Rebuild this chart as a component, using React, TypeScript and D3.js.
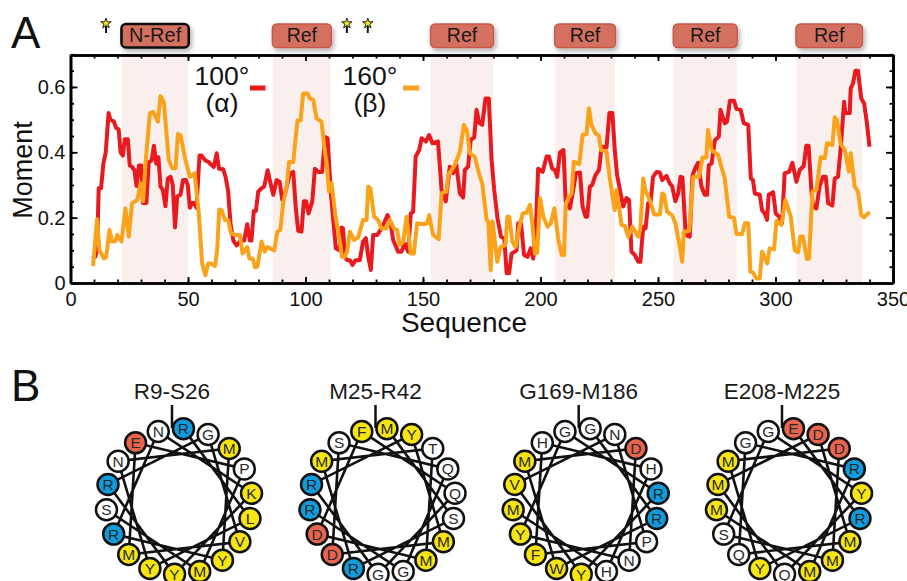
import React, { useEffect, useRef } from "react";
import * as d3 from "d3";

// [residue, moment]
const alphaTrace: [number, number][] = [
  [9.4,.086],[10.5,.08],[11.3,.10],[12,.29],[13,.29],[14,.366],[15,.40],[16.2,.52],[17,.50],[18.4,.495],[19.4,.475],[20.5,.47],[21.3,.40],[22.3,.39],[23.1,.44],[24.4,.44],[25.2,.36],[26.2,.355],[27.2,.345],[28.1,.297],[29.1,.36],[30.1,.36],[30.8,.245],[32.3,.245],[33.3,.37],[34.5,.375],[35.5,.42],[36.5,.365],[37.4,.385],[38.3,.295],[39.3,.285],[40.4,.235],[41.4,.32],[42.6,.325],[43.5,.30],[44.5,.17],[45.4,.265],[46.8,.27],[47.9,.315],[49.1,.315],[49.9,.30],[50.8,.23],[51.8,.245],[52.8,.245],[53.6,.23],[54.9,.39],[55.7,.39],[57.4,.375],[58.9,.37],
  [59.3,.366],[61,.355],[62.2,.397],[63.2,.35],[65,.348],[66,.325],[67.1,.28],[68.1,.18],[69.3,.13],[70.7,.115],[72.4,.13],[73.9,.13],[75.2,.18],[76.3,.13],[77,.13],[78,.22],[78.9,.22],[79.9,.28],[81.3,.29],[82.4,.295],[83.9,.345],[85.1,.305],[86.3,.27],[87.7,.315],[89,.31],[90.1,.255],[91.2,.27],[93.4,.335],[94.8,.34],[95.8,.235],[96.9,.16],[98.3,.157],[99.3,.25],[100.3,.25],[101.3,.213],[102.9,.25],[104,.35],[105.4,.34],[107.1,.34],[108.3,.447],[109.4,.443],[110.8,.275],[111.8,.193],[112.9,.106],[114.4,.10],[115.3,.17],[116,.167],[116.7,.08],
  [117.7,.07],[118.9,.07],[120,.055],[121.3,.07],[123.1,.07],[124.5,.127],[125.7,.137],[126.7,.08],[127.8,.04],[128.8,.147],[130.5,.147],[131.9,.162],[133.7,.188],[134.9,.208],[136.2,.183],[137.3,.132],[139.4,.096],[140.8,.096],[142.3,.12],[143.7,.096],[144.8,.213],[145.8,.218],[146.9,.387],[148.4,.407],[149.4,.443],[151.2,.433],[152.6,.453],[154,.428],[156.4,.433],[157.9,.285],[159.7,.25],[161.4,.356],[162.8,.336],[164.2,.361],[165.7,.275],[167.1,.262],[167.8,.346],[169.2,.356],[170.3,.438],[171.8,.446],[172.8,.53],[173.9,.49],
  [175.2,.484],[176.6,.565],[178,.565],[179.2,.376],[180.3,.285],[181.7,.198],[183.2,.142],[184.6,.137],[185.6,.03],[186.6,.03],[187.7,.09],[189.8,.10],[190.5,.183],[191.7,.183],[193,.086],[194.5,.08],[195.8,.106],[196.9,.075],[198.1,.183],[199,.35],[200.9,.34],[202.6,.387],[203.6,.387],[205,.35],[206.1,.346],[207.1,.325],[208.3,.40],[209.8,.407],[210.7,.25],[212.5,.228],[213.7,.275],[215.1,.336],[216.8,.338],[217.9,.234],[219.2,.203],[219.9,.203],[221,.295],[222,.30],[223.4,.33],[224.9,.346],[226,.417],[228.1,.415],[229.3,.52],[230.6,.52],
  [231.6,.407],[232.6,.33],[233.8,.285],[235.2,.234],[236.6,.26],[237.7,.254],[238.7,.096],[240.1,.086],[241.6,.065],[242.5,.065],[243.7,.172],[244.7,.167],[245.8,.244],[246.9,.25],[247.9,.325],[249.4,.34],[250.8,.338],[251.8,.315],[253.6,.328],[255,.305],[256,.297],[257.4,.25],[258.6,.275],[259.6,.325],[260.4,.323],[261.8,.147],[263.5,.142],[264.7,.33],[266.1,.356],[267.1,.368],[268.5,.295],[269.9,.27],[270.9,.27],[271.6,.36],[272.8,.366],[274.2,.437],[275.9,.448],[276.6,.53],[278.4,.489],[279.4,.494],[280.6,.558],[282.3,.558],[283.4,.533],[285.2,.53],[286.5,.489],[288.4,.484],
  [289.5,.32],[290.4,.315],[291.2,.274],[293.3,.27],[294.3,.223],[295.4,.213],[296.4,.193],[297.1,.27],[299,.278],[300.1,.213],[301.5,.203],[302.8,.183],[303.9,.336],[305.8,.34],[307.2,.368],[308.9,.31],[310.3,.346],[312,.358],[313.1,.42],[314.1,.42],[315.3,.28],[316,.234],[317.4,.228],[318.8,.297],[320.2,.325],[321.4,.325],[322.4,.244],[324.2,.237],[325.2,.32],[326.6,.325],[327.8,.417],[329.2,.555],[329.7,.52],[331.6,.52],[332,.596],[333,.611],[334,.65],[335.1,.65],[336.5,.565],[337.7,.55],[338.9,.489],[340,.417],
];

const betaTrace: [number, number][] = [
  [9.6,.052],[11.3,.195],[12.3,.10],[14.2,.075],[15.2,.08],[16.6,.162],[17.7,.127],[19.1,.128],[19.9,.147],[21.7,.127],[23.4,.228],[24.8,.142],[26.2,.244],[28.4,.254],[29.8,.305],[30.9,.25],[31.9,.366],[33.8,.52],[35.2,.524],[37.2,.494],[38.3,.572],[39.7,.555],[41.8,.377],[43.3,.351],[44.7,.351],[45.7,.456],[46.8,.453],[48.9,.377],[50.8,.325],[52.8,.336],[54.6,.213],[56,.06],[57.4,.024],[58.6,.06],
  [59.8,.06],[61.5,.052],[62.4,.10],[63.3,.225],[64.3,.223],[65.7,.193],[67.1,.193],[68.3,.152],[70,.147],[72.1,.147],[73.2,.09],[75.2,.11],[76.1,.075],[77.5,.075],[78.5,.048],[79.5,.05],[81.3,.127],[82.7,.096],[83.7,.11],[86.7,.10],[88,.157],[89.3,.162],[90.5,.244],[92,.295],[93,.37],[94.8,.37],[95.8,.443],[96.6,.497],[97.9,.497],[99,.58],[100.9,.58],[101.9,.565],[103.3,.56],[104.7,.504],[106.8,.494],[108,.417],[109,.366],[110,.28],[111.1,.305],[112.8,.203],[114.6,.127],[115.5,.08],
  [116.7,.08],[117.7,.096],[118.9,.157],[120.6,.132],[122.4,.139],[124.5,.193],[126,.193],[126.7,.295],[127.6,.29],[129.2,.203],[130.9,.193],[132.3,.167],[134.4,.167],[135.9,.193],[137.6,.167],[139,.162],[140.1,.116],[141.6,.127],[143,.203],[144.8,.09],[146.1,.09],[147.5,.183],[150,.18],[151.8,.183],[152.6,.208],[154.3,.147],[156.7,.134],[157.9,.275],[160,.28],[160.7,.33],[163.5,.361],[165.7,.402],[167.4,.484],[168.8,.463],[169.9,.397],[172,.387],
  [173.8,.336],[175.2,.305],[177.1,.193],[177.8,.188],[178.8,.04],[179.6,.188],[181.6,.065],[183,.11],[185.1,.116],[185.9,.203],[186.7,.203],[188,.127],[189.4,.11],[191,.172],[192.4,.213],[194.1,.215],[195.5,.239],[196.5,.183],[197.6,.09],[198.6,.093],[199.8,.26],[201.2,.203],[203,.172],[204.4,.183],[205.9,.229],[207.6,.132],[209,.086],[210,.086],[210.7,.239],[211.8,.26],[213.2,.274],[214.2,.371],[216.5,.364],[217.9,.453],[219.6,.456],[220.6,.535],[221.7,.484],[223.4,.458],[224.9,.45],[225.7,.407],[228.1,.402],[229.5,.32],
  [231.6,.223],[232.3,.285],[234.5,.178],[235.9,.175],[237.3,.142],[239.1,.172],[241.6,.142],[242.5,.167],[243.7,.32],[244.8,.28],[246.5,.254],[248.4,.21],[250.8,.21],[251.8,.274],[252.6,.27],[253.9,.218],[256,.208],[257.4,.183],[259.3,.11],[260.3,.065],[261,.157],[263.3,.16],[265,.325],[267.5,.325],[268.9,.384],[270.6,.384],[271.3,.468],[272.8,.407],[275.6,.392],[278.4,.32],[280.3,.203],[282.3,.2],[283.4,.15],[285.8,.15],[287,.183],[288.4,.183],
  [289.3,.035],[290.4,.032],[291.9,.014],[293.3,.014],[294.3,.096],[296.5,.06],[297.5,.106],[299.4,.103],[300.4,.19],[302.5,.178],[304.2,.254],[306.5,.203],[308.2,.10],[309.6,.094],[310.6,.142],[311.7,.142],[313.4,.073],[314.3,.075],[315.7,.28],[317.4,.285],[319.2,.385],[321,.382],[321.9,.428],[324.2,.422],[325.2,.507],[326.2,.499],[327.6,.428],[329.5,.407],[331.2,.341],[332,.397],[333.7,.295],[335.1,.28],[336.5,.208],[337.7,.201],[340,.218],
];

const repeatStart = [21.9, 86.1, 153.4, 206.2, 256.7, 308.9];
const repeatEnd = [50.1, 110.8, 179.8, 231.7, 283.5, 336.8];
const repeatNames = ["N-Ref", "Ref", "Ref", "Ref", "Ref", "Ref"];
const starSites = [15.1, 117.6, 126.5];

const xMajor = [0, 50, 100, 150, 200, 250, 300, 350];
const xMinor = d3.range(0, 351, 10);
const yMajor = [0, 0.2, 0.4, 0.6];
const yMinor = [0, .05, .1, .15, .2, .25, .3, .35, .4, .45, .5, .55, .6, .65, .7];

// residues clockwise from the first one at the top
const wheelTitles = ["R9-S26", "M25-R42", "G169-M186", "E208-M225"];
const wheelRings = [
  "RGMPKLVYMYYMRSRNEN",
  "MYTQQSMMGGRDDRRMSF",
  "GNDHRRPNHYWFYMVMHG",
  "EDDRYRMMMQYQSMMMGG",
];
const wheelCenters = [179, 382.5, 585.7, 789];

const RED = "#e8191f";
const ORANGE = "#faa31a";
const FONT = "'Liberation Sans', Arial, sans-serif";

const residueFill = (c: string) => {
  if ("MKLVYFW".includes(c)) return "#f6e511";
  if (c === "R") return "#0f9bdc";
  if (c === "D" || c === "E") return "#e8644f";
  return "#ffffff";
};

const W = 907, H = 581;
const x = d3.scaleLinear().domain([0, 350]).range([70.5, 893]);
const y = d3.scaleLinear().domain([0, 0.7]).range([283, 54.3]);

const Wheel = ({ cx, title, ring }: { cx: number; title: string; ring: string }) => {
  const cy = 501.5;
  const r = 73;
  const n = ring.length;
  const angle = d3.scaleLinear().domain([0, n]).range([3.5, 363.5]);
  const pos = (i: number): [number, number] => {
    const a = (angle(i) * Math.PI) / 180;
    return [cx + r * Math.sin(a), cy - r * Math.cos(a)];
  };
  // helix order: each next residue is 100 degrees on, so 5 places round the ring
  const order = d3.range(n).map(k => pos((k * 5) % n));
  return (
    <g>
      <text x={cx - 7} y={399} textAnchor="middle" fontSize={22.5} fill="#1a1a1a">{title}</text>
      <line x1={cx - 7} x2={cx - 7} y1={405} y2={428} stroke="#111" strokeWidth={2.5} />
      <path d={d3.line()(order) ?? ""} fill="none" stroke="#111" strokeWidth={2.6} />
      {ring.split("").map((c, i) => {
        const [px, py] = pos(i);
        return (
          <g key={i}>
            <circle cx={px} cy={py} r={10.5} fill={residueFill(c)} stroke="#111" strokeWidth={2.5} />
            <text x={px} y={py + 5.5} textAnchor="middle" fontSize={15.5} fill="#2a2a2a">{c}</text>
          </g>
        );
      })}
    </g>
  );
};

export default function App() {
  const axes = useRef<SVGGElement>(null);

  useEffect(() => {
    const g = d3.select(axes.current);
    g.selectAll("*").remove();

    const add = (ax: any, tx: number, ty: number, showDomain: boolean) => {
      const s = g.append("g").attr("transform", `translate(${tx},${ty})`).call(ax);
      s.selectAll(".domain").attr("stroke", "#000").attr("stroke-width", showDomain ? 2.6 : 0);
      s.selectAll(".tick line").attr("stroke", "#000").attr("stroke-width", 1.8);
      s.selectAll("text").attr("font-family", FONT).attr("font-size", 20).attr("fill", "#111");
    };

    const fmt = (d: any) => (d === 0 ? "0" : String(d));
    const bottom = 283, top = 55, left = 70.5, right = 893;
    // minor ticks first, the majors with labels on top
    add(d3.axisBottom(x).tickValues(xMinor).tickSize(-3.5).tickSizeOuter(0).tickFormat(() => ""), 0, bottom, true);
    add(d3.axisBottom(x).tickValues(xMajor).tickSize(-6).tickSizeOuter(0).tickPadding(9).tickFormat(fmt as any), 0, bottom, true);
    add(d3.axisTop(x).tickValues(xMinor).tickSize(-3.5).tickSizeOuter(0).tickFormat(() => ""), 0, top, true);
    add(d3.axisTop(x).tickValues(xMajor).tickSize(-6).tickSizeOuter(0).tickFormat(() => ""), 0, top, true);
    add(d3.axisLeft(y).tickValues(yMinor).tickSize(-3.5).tickSizeOuter(0).tickFormat(() => ""), left, 0, true);
    add(d3.axisLeft(y).tickValues(yMajor).tickSize(-7).tickSizeOuter(0).tickPadding(5).tickFormat(fmt as any), left, 0, true);
    add(d3.axisRight(y).tickValues(yMinor).tickSize(-3.5).tickSizeOuter(0).tickFormat(() => ""), right, 0, true);
    add(d3.axisRight(y).tickValues(yMajor).tickSize(-7).tickSizeOuter(0).tickFormat(() => ""), right, 0, true);
  }, []);

  const trace = d3.line<[number, number]>().x(d => x(d[0])).y(d => y(d[1]));
  const star = d3.symbol().type(d3.symbolStar).size(34)() ?? "";

  return (
    <svg width={W} height={H} style={{ position: "absolute", left: 0, top: 0, display: "block" }} fontFamily={FONT}>
      <defs>
        <filter id="soft" x="-10%" y="-60%" width="120%" height="240%">
          <feDropShadow dx={2} dy={3} stdDeviation={2.5} floodColor="#000" floodOpacity={0.3} />
        </filter>
      </defs>

      <text x={11} y={48} fontSize={44} fill="#111">A</text>
      <text x={11} y={401} fontSize={44} fill="#111">B</text>

      {/* domain map above the plot */}
      <g filter="url(#soft)">
        <line x1={x(1.5)} x2={x(349)} y1={34.5} y2={34.5} stroke="#ef6f63" strokeWidth={5} strokeLinecap="round" />
      </g>
      {starSites.map((s, i) => (
        <g key={i}>
          <line x1={x(s)} x2={x(s)} y1={25} y2={33} stroke="#111" strokeWidth={2} />
          <path d={star} transform={`translate(${x(s)},${23.5})`} fill="#f8e71c" stroke="#222" strokeWidth={1} />
        </g>
      ))}
      {repeatStart.map((s, i) => {
        const x0 = x(s) - 0.5, x1 = x(repeatEnd[i]) + 0.5;
        const first = i === 0;
        return (
          <g key={i}>
            <rect x={x0} y={24} width={x1 - x0} height={23.5} rx={4.5} fill="#d4705f"
              stroke={first ? "#111" : "#c8574a"} strokeWidth={first ? 2.6 : 1.4} filter="url(#soft)" />
            <text x={(x0 + x1) / 2} y={42} textAnchor="middle" fontSize={first ? 20 : 19.5} fill="#1a1a1a">{repeatNames[i]}</text>
          </g>
        );
      })}

      {/* plot */}
      {repeatStart.map((s, i) => (
        <rect key={i} x={x(s)} y={57} width={x(repeatEnd[i]) - x(s)} height={225} fill="#f9f0ee" />
      ))}
      <path d={trace(alphaTrace) ?? ""} fill="none" stroke={RED} strokeWidth={4} strokeLinejoin="round" />
      <path d={trace(betaTrace) ?? ""} fill="none" stroke={ORANGE} strokeWidth={4} strokeLinejoin="round" />
      <g ref={axes} />

      <text x={222} y={85} textAnchor="middle" fontSize={26.5} fill="#111">100°</text>
      <text x={222} y={112} textAnchor="middle" fontSize={26.5} fill="#111">(α)</text>
      <line x1={250} x2={265.5} y1={88} y2={88} stroke={RED} strokeWidth={5} />
      <text x={370} y={85} textAnchor="middle" fontSize={26.5} fill="#111">160°</text>
      <text x={370} y={112} textAnchor="middle" fontSize={26.5} fill="#111">(β)</text>
      <line x1={403} x2={419} y1={88} y2={88} stroke={ORANGE} strokeWidth={5} />

      <text transform="translate(32,170) rotate(-90)" textAnchor="middle" fontSize={27} fill="#111">Moment</text>
      <text x={464} y={332} textAnchor="middle" fontSize={28} fill="#111">Sequence</text>

      {wheelTitles.map((t, i) => (
        <Wheel key={t} cx={wheelCenters[i]} title={t} ring={wheelRings[i]} />
      ))}
    </svg>
  );
}
